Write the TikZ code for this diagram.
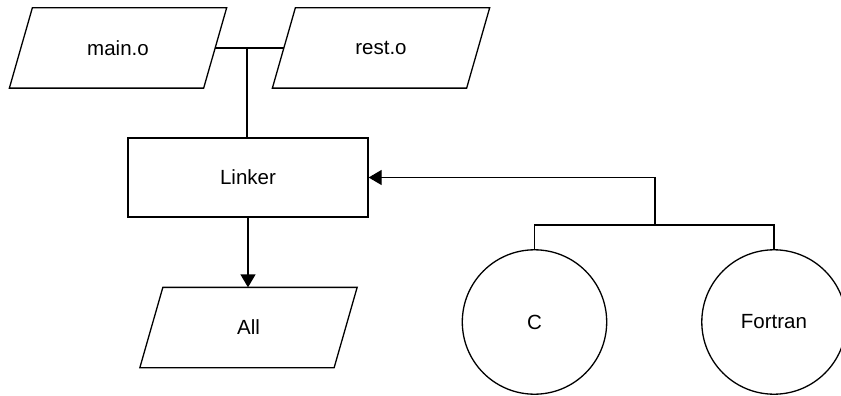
\documentclass[tikz,border=0pt]{standalone}
\usepackage{fontspec}
\setmainfont{Liberation Sans}
\usetikzlibrary{arrows.meta,calc}

% outline of a data (parallelogram) node, drawn around its invisible box
\newcommand{\ioframe}[1]{%
  \draw ([xshift=11.5pt]#1.north west) -- ([xshift=11.5pt]#1.north east)
     -- ([xshift=-11.5pt]#1.south east) -- ([xshift=-11.5pt]#1.south west) -- cycle;}

\begin{document}
\begin{tikzpicture}[x=1pt, y=-1pt,
  line width=1.3pt,
  every node/.style={font=\fontsize{20.5}{24}\selectfont, inner sep=0pt},
  iobox/.style={rectangle, minimum width=193pt, minimum height=79pt},
  procbox/.style={rectangle, draw, minimum width=240pt, minimum height=79pt},
  langnode/.style={circle, draw, minimum size=144.4pt},
  arr/.style={-{Triangle[length=13pt,width=15pt]}}]

  \useasboundingbox (0,0) rectangle (841,396);
  \clip (0,0) rectangle (841,396);

  % object files
  \node[iobox] (main) at (118,48) {main.o};
  \ioframe{main}
  \node[iobox] (rest) at (381,48) {rest.o};
  \ioframe{rest}

  % linker and its output
  \node[procbox] (linker) at (248,177.5) {Linker};
  \node[iobox] (all) at (248.5,327.5) {All};
  \ioframe{all}

  % source languages
  \node[langnode] (c) at (534.5,322) {C};
  \node[langnode] (fortran) at (774,322) {Fortran};

  % object files joined into the linker
  \draw (main.east) -- (rest.west);
  \coordinate (objjoin) at (247,48);
  \draw (objjoin) -- (objjoin |- linker.north);

  % linker output
  \draw[arr] (linker.south) -- (linker.south |- all.north);

  % languages feeding the linker
  \coordinate (langbus) at (655,225);
  \draw (c.north) |- (langbus) -| (fortran.north);
  \draw[arr] (langbus) |- (linker.east);
\end{tikzpicture}
\end{document}
